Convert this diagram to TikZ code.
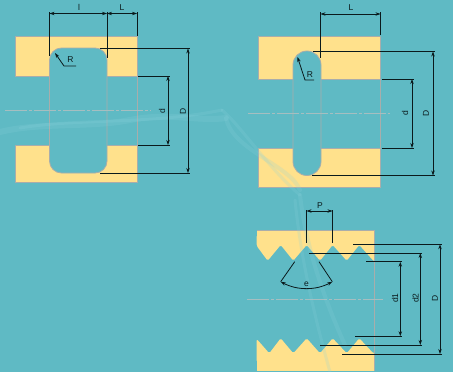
\documentclass[tikz,border=0pt]{standalone}
\usepackage{fontspec}
\setmainfont{Liberation Sans}
\usetikzlibrary{arrows.meta}
\definecolor{bgc}{HTML}{5FBAC4}
\definecolor{swoosh}{HTML}{8AD2DC}
\definecolor{yel}{HTML}{FFE18C}
\definecolor{outl}{HTML}{A9ADAB}
\definecolor{axisc}{HTML}{A6BEC0}
\definecolor{dimc}{HTML}{0A1A1C}
\tikzset{
  part/.style={fill=yel,draw=outl,line width=0.8pt},
  slot/.style={fill=bgc,draw=outl,line width=0.8pt},
  edgeline/.style={draw=outl,line width=0.8pt},
  axisline/.style={draw=axisc,line width=0.6pt,dash pattern=on 22pt off 2pt on 3pt off 2pt},
  ext/.style={draw=dimc,line width=0.8pt},
  dimline/.style={draw=dimc,line width=0.8pt,{Stealth[length=5pt,width=3.4pt]}-{Stealth[length=5pt,width=3.4pt]}},
  leader/.style={draw=dimc,line width=0.8pt,{Stealth[length=5pt,width=3.4pt]}-},
  lab/.style={font=\fontsize{8.5}{10}\selectfont,text=dimc,inner sep=0pt},
  vlab/.style={lab,rotate=90},
  wave/.style={draw=swoosh,line cap=round,opacity=0.2}
}
\begin{document}
\begin{tikzpicture}[x=1pt,y=-1pt]
\useasboundingbox (0,0) rectangle (453,372);
\fill[bgc] (0,0) rectangle (453,372);
% left part
\fill[part] (15,36) rectangle (137,76);
\fill[part] (15,145) rectangle (137,182);
\draw[edgeline] (15,36) rectangle (137,76);
\draw[edgeline] (15,145) rectangle (137,182);
\draw[edgeline] (137,76) -- (137,145);
\draw[slot,rounded corners=12pt] (49.5,48) rectangle (107,173);
\draw[axisline] (5,110.5) -- (151,110.5);
% middle part
\fill[part] (258.5,36) rectangle (380.5,79);
\fill[part] (258.5,148) rectangle (380.5,187);
\draw[edgeline] (258.5,36) rectangle (380.5,79);
\draw[edgeline] (258.5,148) rectangle (380.5,187);
\draw[edgeline] (380.5,79) -- (380.5,148);
\draw[slot,rounded corners=13.9pt] (293,51) rectangle (321,175.5);
\draw[axisline] (248,113.5) -- (390,113.5);
% threaded part
\fill[yel] (256.7,230) rectangle (374.7,245);
\fill[yel] (256.7,355) rectangle (374.7,371);
\draw[part,draw=none,rounded corners=1.5pt] (256.7,235) -- (374.7,235) -- (374.7,260.7) -- (373.3,260.7) -- (359.3,245) -- (346.7,260.7) -- (332.7,245) -- (320,260.7) -- (306.7,245) -- (293.3,260.7) -- (280.7,245) -- (267.7,260.7) -- (256.7,246) -- cycle;
\draw[part,draw=none,rounded corners=1.5pt] (256.7,362) -- (374.7,362) -- (374.7,353.3) -- (373.3,353.3) -- (359.3,338.3) -- (346.7,353.3) -- (332.7,338.3) -- (320,353.3) -- (306.7,338.3) -- (293.3,353.3) -- (280.7,338.3) -- (269.3,353.3) -- (256.7,339) -- cycle;
\draw[edgeline] (374.7,230) -- (374.7,371);
\draw[edgeline] (256.7,230) -- (374.7,230);
\draw[axisline] (247,299.3) -- (383,299.3);
% faint background swooshes
\draw[wave,line width=6pt] (0,132) .. controls (40,122) and (90,128) .. (130,120) .. controls (170,112) and (200,122) .. (226,118);
\draw[wave,line width=3pt] (20,128) .. controls (80,118) and (150,125) .. (222,110);
\draw[wave,line width=3pt] (222,110) .. controls (240,125) and (270,170) .. (300,195);
\draw[wave,line width=4pt] (226,118) .. controls (232,150) and (290,165) .. (300,190);
\draw[wave,line width=4pt] (300,195) .. controls (305,240) and (320,290) .. (345,345);
\draw[wave,line width=3pt] (295,200) .. controls (300,250) and (310,300) .. (330,372);
% left dimensions
\draw[ext] (49.5,12) -- (49.5,56);
\draw[ext] (107,12) -- (107,58);
\draw[ext] (137,12) -- (137,36);
\draw[dimline] (49.5,13.5) -- (107,13.5);
\draw[dimline] (107,13.5) -- (137,13.5);
\draw[ext] (100,48.5) -- (190,48.5);
\draw[ext] (100,173) -- (190,173);
\draw[ext] (138,76) -- (170,76);
\draw[ext] (138,145) -- (170,145);
\draw[dimline] (168,76) -- (168,145);
\draw[dimline] (188,48.5) -- (188,173);
\draw[leader] (55,53) -- (64,66) -- (76,66);
\node[lab] (ll) at (79,7) {l};
\node[lab] (lL) at (122,8) {L};
\node[lab] (lR) at (70.5,60) {R};
\node[vlab] (ld) at (162,111) {d};
\node[vlab] (lD) at (183,111) {D};
% middle dimensions
\draw[ext] (320.5,12) -- (320.5,58);
\draw[ext] (380.5,12) -- (380.5,35);
\draw[dimline] (320.5,14) -- (380.5,14);
\draw[ext] (313,51.5) -- (435,51.5);
\draw[ext] (312,175.5) -- (435,175.5);
\draw[ext] (382,79) -- (414,79);
\draw[ext] (382,148) -- (414,148);
\draw[dimline] (412,79) -- (412,148);
\draw[dimline] (433,51.5) -- (433,175.5);
\draw[leader] (297.5,57) -- (305,80) -- (314,80);
\node[lab] (mL) at (351,8) {L};
\node[lab] (mR) at (310,75) {R};
\node[vlab] (md) at (405,113) {d};
\node[vlab] (mD) at (426,113) {D};
% threaded dimensions
\draw[ext] (306.5,210) -- (306.5,243);
\draw[ext] (332.5,210) -- (332.5,243);
\draw[dimline] (306.5,211) -- (332.5,211);
\node[lab] (tP) at (320,206) {P};
\draw[ext] (353,244.3) -- (442,244.3);
\draw[ext] (342,354) -- (442,354);
\draw[dimline] (440,244.3) -- (440,354);
\draw[ext] (309,253) -- (422,253);
\draw[ext] (320,345) -- (422,345);
\draw[dimline] (420.3,253) -- (420.3,345);
\draw[ext] (366,261.7) -- (402,261.7);
\draw[ext] (355,336.3) -- (402,336.3);
\draw[dimline] (400.3,261.7) -- (400.3,336.3);
\node[vlab] (td1) at (395,298) {d1};
\node[vlab] (td2) at (415.7,298) {d2};
\node[vlab] (tD) at (435,298) {D};
\draw[ext] (294.7,261.7) -- (280.7,281.7);
\draw[ext] (319,261.7) -- (332.3,281.7);
\draw[dimline] (280.7,281.7) .. controls (297,290.5) and (316,290.5) .. (332.3,281.7);
\node[lab] (te) at (306.5,284) {e};
\end{tikzpicture}
\end{document}
